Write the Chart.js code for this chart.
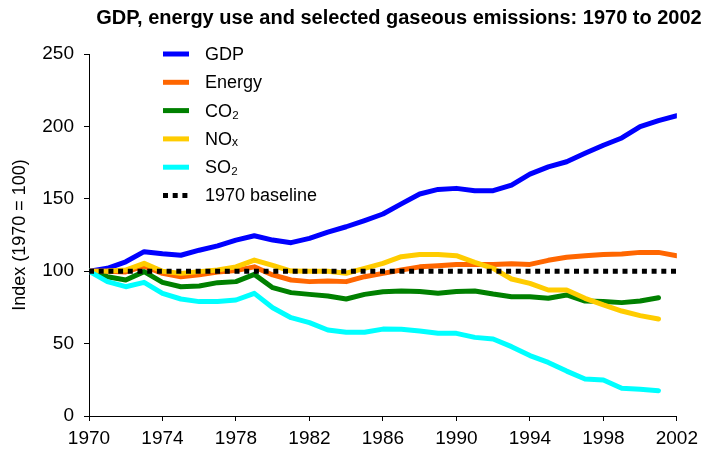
<!DOCTYPE html>
<html>
<head>
<meta charset="utf-8">
<script src="https://cdn.jsdelivr.net/npm/chart.js@4"></script>
<style>
  html, body { margin: 0; padding: 0; background: #fff; }
</style>
</head>
<body>
<canvas id="chart" width="704" height="454"></canvas>
<script>
const years = [1970, 1971, 1972, 1973, 1974, 1975, 1976, 1977, 1978, 1979,
               1980, 1981, 1982, 1983, 1984, 1985, 1986, 1987, 1988, 1989,
               1990, 1991, 1992, 1993, 1994, 1995, 1996, 1997, 1998, 1999,
               2000, 2001, 2002];

const gdp = [100, 102, 106.5, 113.5, 112, 111, 114.5, 117.5, 121.5, 124.5,
             121.5, 119.7, 122.7, 127, 130.7, 135, 139.5, 146.5, 153.3, 156.5,
             157.2, 155.5, 155.6, 159.5, 167, 172, 175.6, 181.4, 187, 192,
             199.8, 204, 207.4];
const energy = [100, 100, 99.5, 103.5, 98.5, 96.2, 97.5, 99.5, 100.5, 103,
                97.4, 93.9, 92.8, 93.2, 92.8, 96.2, 98.5, 100.8, 103, 103.8,
                104.7, 104.7, 104.7, 105.2, 104.7, 107.5, 109.6, 110.7, 111.6, 111.8,
                113, 113, 110.7];
const co2 = [100, 96.2, 93.9, 99.7, 92.3, 89.3, 89.8, 92.1, 92.8, 97.8,
             88.6, 85.2, 84, 82.9, 80.8, 84, 85.8, 86.3, 86, 84.7,
             86, 86.3, 84.2, 82.4, 82.4, 81.3, 83.6, 79.4, 79, 78.3,
             79.4, 81.7];
const nox = [100, 100.1, 100.8, 105.4, 100, 98.5, 99.7, 100.8, 103, 107.7,
             104, 100.1, 100, 100, 98.6, 102, 105.4, 110, 111.6, 111.6,
             110.7, 106.1, 102, 94.6, 91.6, 87, 87, 81.3, 76.7, 72.5,
             69.3, 67];
const so2 = [100, 92.8, 89.3, 92.3, 84.7, 80.8, 79, 79, 80.1, 84.7,
             74.8, 67.9, 64.5, 59.4, 57.8, 57.8, 60, 59.9, 58.7, 57.1,
             57.1, 54.3, 53.2, 47.9, 41.7, 37, 31, 25.5, 24.8, 19.1,
             18.4, 17.5];
const baseline = [100, 100];
const baselineYears = [1970, 2002];

const seriesNames = ['GDP', 'Energy', 'CO\u2082', 'NO\u2093', 'SO\u2082', '1970 baseline'];
const seriesColors = ['#0000ff', '#ff6600', '#008000', '#ffcc00', '#00ffff', '#000000'];

function toPoints(xs, ys) {
    return ys.map((v, i) => ({ x: xs[i], y: v }));
}

function lineSet(i, points) {
    return {
        label: seriesNames[i],
        data: points,
        borderColor: seriesColors[i],
        backgroundColor: seriesColors[i],
        borderWidth: 5,
        pointRadius: 0,
        tension: 0,
        borderJoinStyle: 'round',
        borderCapStyle: 'round',
        order: 5 - i
    };
}

// title + legend drawn inside the plot, top-left, like the original
const insideLegend = {
    id: 'insideLegend',
    afterDraw(chart) {
        const ctx = chart.ctx;
        ctx.save();
        ctx.fillStyle = '#000';
        ctx.font = 'bold 20px "Liberation Sans", Arial, sans-serif';
        ctx.textAlign = 'center';
        ctx.textBaseline = 'middle';
        ctx.fillText('GDP, energy use and selected gaseous emissions: 1970 to 2002', 399, 18);

        ctx.textAlign = 'left';
        ctx.font = '18px "Liberation Sans", Arial, sans-serif';
        chart.data.datasets.forEach((ds, i) => {
            const y = 54 + i * 28.3;
            ctx.beginPath();
            ctx.strokeStyle = ds.borderColor;
            ctx.lineWidth = 5;
            ctx.lineCap = 'butt';
            ctx.setLineDash(ds.borderDash || []);
            ctx.moveTo(163, y);
            ctx.lineTo(189, y);
            ctx.stroke();
            ctx.setLineDash([]);
            ctx.fillStyle = '#000';
            ctx.fillText(ds.label, 205, y + 1);
        });
        ctx.restore();
    }
};

const baseSet = lineSet(5, toPoints(baselineYears, baseline));
baseSet.borderDash = [5, 4.7];
baseSet.borderCapStyle = 'butt';

new Chart(document.getElementById('chart').getContext('2d'), {
    type: 'line',
    data: {
        datasets: [
            lineSet(0, toPoints(years, gdp)),
            lineSet(1, toPoints(years, energy)),
            lineSet(2, toPoints(years, co2)),
            lineSet(3, toPoints(years, nox)),
            lineSet(4, toPoints(years, so2)),
            baseSet
        ]
    },
    options: {
        responsive: false,
        animation: false,
        layout: { padding: { top: 54, right: 27, left: 0, bottom: 0 } },
        plugins: {
            legend: { display: false },
            tooltip: { enabled: false },
            title: { display: false }
        },
        scales: {
            x: {
                type: 'linear',
                min: 1970,
                max: 2002,
                afterFit(scale) { scale.height = 38; },
                ticks: {
                    stepSize: 4,
                    color: '#000',
                    padding: 6,
                    maxRotation: 0,
                    font: { family: '"Liberation Sans", Arial, sans-serif', size: 19 },
                    callback: v => String(v)
                },
                grid: { drawOnChartArea: false, tickLength: 5, color: '#000' },
                border: { display: true, color: '#000', width: 1 }
            },
            y: {
                min: 0,
                max: 250,
                afterFit(scale) { scale.width = 89; },
                ticks: {
                    stepSize: 50,
                    color: '#000',
                    padding: 10,
                    font: { family: '"Liberation Sans", Arial, sans-serif', size: 19 }
                },
                grid: { drawOnChartArea: false, tickLength: 5, color: '#000' },
                border: { display: true, color: '#000', width: 1 },
                title: {
                    display: true,
                    text: 'Index (1970 = 100)',
                    color: '#000',
                    padding: { top: 9, bottom: 0 },
                    font: { family: '"Liberation Sans", Arial, sans-serif', size: 18 }
                }
            }
        }
    },
    plugins: [insideLegend]
});
</script>
</body>
</html>
